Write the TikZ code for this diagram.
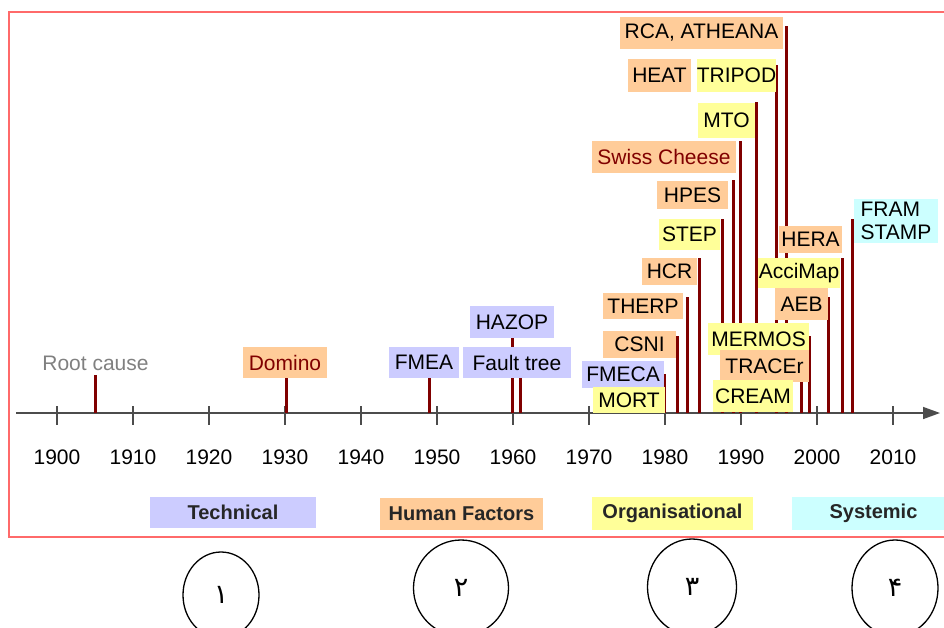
\documentclass[tikz,border=0pt]{standalone}
\usepackage{fontspec}
\setmainfont{Liberation Sans}
\newfontfamily\fafont[Script=Arabic]{DejaVu Sans}
\usetikzlibrary{arrows.meta,shapes.geometric}
\definecolor{barred}{HTML}{800000}
\definecolor{techblue}{HTML}{CCCCFF}
\definecolor{humorange}{HTML}{FFCC99}
\definecolor{orgyellow}{HTML}{FFFF99}
\definecolor{syscyan}{HTML}{CCFFFF}
\definecolor{framered}{HTML}{FF6A6A}
\tikzset{
	mbox/.style={inner sep=0pt,font=\fontsize{21}{23}\selectfont},
	catbox/.style={inner sep=0pt,font=\fontsize{20}{22}\selectfont\bfseries,text=black!85},
	barline/.style={barred,line width=3pt},
	tickline/.style={black!70,line width=1.2pt},
	yearlab/.style={font=\fontsize{21}{23}\selectfont},
	eracircle/.style={ellipse,draw,line width=1.3pt,inner sep=0pt,font=\fafont\fontsize{27}{29}\selectfont}
}
\newcommand\methodbox[7]{\node[mbox,fill=#2,minimum width={#5-#3},minimum height={#6-#4}] (#1) at ({(#3+#5)/2},{(#4+#6)/2}) {#7};}
\newcommand\catlabel[7]{\node[catbox,fill=#2,minimum width={#5-#3},minimum height={#6-#4}] (#1) at ({(#3+#5)/2},{(#4+#6)/2}) {#7};}

\begin{document}
\begin{tikzpicture}[x=1pt,y=-1pt]
	\useasboundingbox (0,0) rectangle (944,627);
	\draw[framered,line width=2pt] (960,12)--(9,12)--(9,537)--(960,537);
	\draw[black!70,line width=1.5pt,-{Triangle[length=17pt,width=12pt]}] (16,413)--(940,413);
	\foreach \yr [count=\i from 0] in {1900,1910,...,2010} {
		\draw[tickline] ({57+76*\i},406)--({57+76*\i},425);
		\node[yearlab] (y\yr) at ({57+76*\i},457) {\yr};
	}
	\foreach \bx/\bt in {95/375,286/375,429/378,512/338,520/378,664/374,677/336,687/297,699/258,722/219,733/180,740/141,756/102,776/65,786/26,801/382,809/336,828/297,842/258,852/219}
		\draw[barline] (\bx,413)--(\bx,\bt);
	\node[mbox,text=black!50] (rootcause) at (95.5,363) {Root cause};
	\methodbox{domino}{humorange}{243}{347}{327}{378}{\color{barred}Domino}
	\methodbox{fmea}{techblue}{389}{347}{459}{378}{FMEA}
	\methodbox{hazop}{techblue}{470}{306}{554}{338}{HAZOP}
	\methodbox{faulttree}{techblue}{463}{347}{571}{378}{Fault tree}
	\methodbox{fmeca}{techblue}{582}{361}{664}{388}{FMECA}
	\methodbox{mort}{orgyellow}{593}{387}{665}{413}{MORT}
	\methodbox{csni}{humorange}{603}{331}{676}{358}{CSNI}
	\methodbox{therp}{humorange}{603}{293}{683}{319}{THERP}
	\methodbox{hcr}{humorange}{642}{258}{697}{285}{HCR}
	\methodbox{step}{orgyellow}{659}{219}{720}{250}{STEP}
	\methodbox{hpes}{humorange}{657}{181}{728}{209}{HPES}
	\methodbox{swiss}{humorange}{592}{141}{736}{173}{\color{barred}Swiss Cheese}
	\methodbox{mto}{orgyellow}{698}{103}{755}{138}{MTO}
	\methodbox{heat}{humorange}{628}{59}{691}{92}{HEAT}
	\methodbox{tripod}{orgyellow}{698}{59}{775}{92}{TRIPOD}
	\methodbox{rca}{humorange}{620}{17}{783}{49}{RCA, ATHEANA}
	\methodbox{mermos}{orgyellow}{708}{323}{809}{355}{MERMOS}
	\methodbox{tracer}{humorange}{720}{350}{809}{382}{TRACEr}
	\methodbox{cream}{orgyellow}{713}{380}{793}{412}{CREAM}
	\methodbox{hera}{humorange}{779}{226}{842}{253}{HERA}
	\methodbox{accimap}{orgyellow}{758}{258}{840}{288}{AcciMap}
	\methodbox{aeb}{humorange}{775}{288}{828}{320}{AEB}
	\node[mbox,fill=syscyan,align=left,minimum width=84,minimum height=44] (framstamp) at (896,221) {FRAM\\STAMP};
	\catlabel{technical}{techblue}{150}{497}{316}{528}{Technical}
	\catlabel{human}{humorange}{380}{498}{543}{530}{Human Factors}
	\catlabel{organisational}{orgyellow}{592}{497}{753}{530}{Organisational}
	\catlabel{systemic}{syscyan}{792}{497}{955}{530}{Systemic}
	\node[eracircle,minimum width=76,minimum height=86] (era1) at (221,595) {۱};
	\node[eracircle,minimum width=95,minimum height=96] (era2) at (461,588) {۲};
	\node[eracircle,minimum width=89,minimum height=96] (era3) at (692,587) {۳};
	\node[eracircle,minimum width=86,minimum height=96] (era4) at (895,588) {۴};
\end{tikzpicture}
\end{document}
